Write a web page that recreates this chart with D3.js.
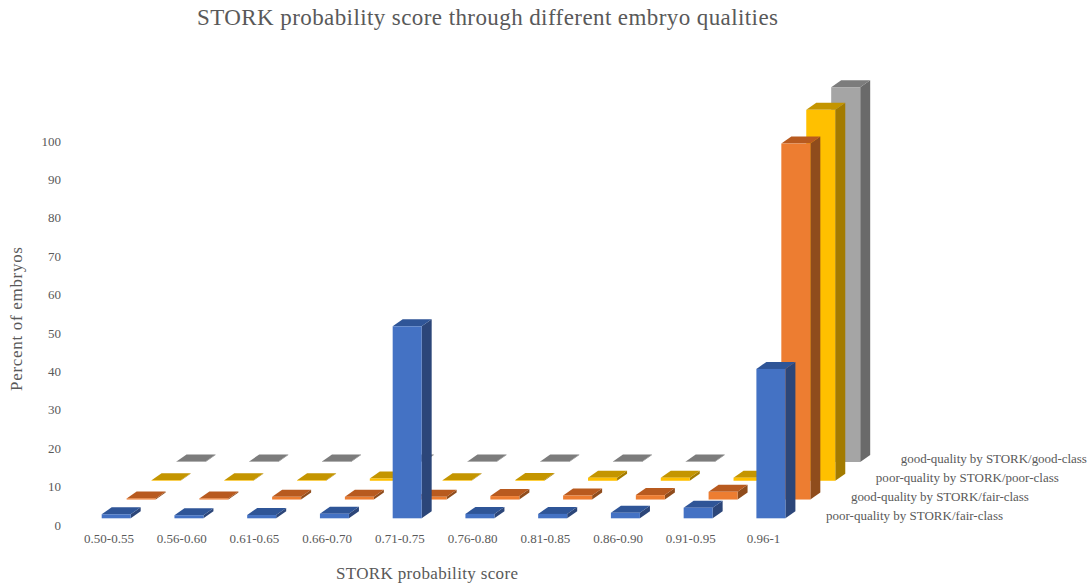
<!DOCTYPE html>
<html>
<head>
<meta charset="utf-8">
<script src="https://cdn.jsdelivr.net/npm/d3@7"></script>
<style>
  html, body { margin: 0; padding: 0; background: #fff; }
  text { font-family: "Liberation Serif", serif; fill: #595959; }
  .axis path, .axis line { display: none; }
</style>
</head>
<body>
<svg id="chart" width="1090" height="585"></svg>
<script>
// STORK score bins and the percent of embryos in each class
const categories = ["0.50-0.55","0.56-0.60","0.61-0.65","0.66-0.70","0.71-0.75","0.76-0.80","0.81-0.85","0.86-0.90","0.91-0.95","0.96-1"];
const seriesNames = [
  "poor-quality by STORK/fair-class",
  "good-quality by STORK/fair-class",
  "poor-quality by STORK/poor-class",
  "good-quality by STORK/good-class"
];
const poorFair = [1.05, 0.8, 0.85, 1.2, 50, 1.15, 1.15, 1.45, 2.75, 38.9];
const goodFair = [0.3, 0.3, 0.7, 0.7, 0.7, 0.9, 1.05, 1.15, 2.0, 92.7];
const poorPoor = [0.15, 0.15, 0.15, 0.6, 0.15, 0.2, 0.8, 0.8, 0.8, 96.6];
const goodGood = [0.15, 0.15, 0.15, 0.15, 0.15, 0.15, 0.15, 0.15, 0.15, 97.6];
const seriesValues = [poorFair, goodFair, poorPoor, goodGood];

// front, top and side shades of each series' bars
const frontColors = ["#4472C4", "#ED7D31", "#FFC000", "#A5A5A5"];
const topColors = ["#2F5597", "#B85A1F", "#C49500", "#7C7C7C"];
const sideColors = ["#2C4679", "#8F4C1C", "#A37B00", "#6A6A6A"];
const valueTicks = d3.range(0, 101, 10);

const svg = d3.select("#chart");

const barWidth = 29, depthX = 10, depthY = 7;

const y = d3.scaleLinear().domain([0, 100]).range([525, 141]);
const xBar = d3.scalePoint().domain(categories).range([101.7, 756.4]);
const xLabel = d3.scalePoint().domain(categories).range([108.5, 763]);
// each series stands further back on the floor: right and up
const seriesX = d3.scalePoint().domain(d3.range(4)).range([0, 74.8]);
const seriesY = d3.scalePoint().domain(d3.range(4)).range([-6.7, -63]);

// rear series first so nearer bars overlap them
d3.range(3, -1, -1).forEach(s => {
  const g = svg.append("g").attr("class", "series");
  const bars = g.selectAll("g").data(seriesValues[s]).join("g");
  const left = (d, i) => xBar(categories[i]) + seriesX(s);
  const base = () => y(0) + seriesY(s);
  const top = d => base() - (y(0) - y(d));

  bars.append("polygon").attr("fill", sideColors[s]).attr("points", (d, i) => {
    const r = left(d, i) + barWidth;
    return [[r, top(d)], [r + depthX, top(d) - depthY], [r + depthX, base() - depthY], [r, base()]].join(" ");
  });
  bars.append("polygon").attr("fill", topColors[s]).attr("points", (d, i) => {
    const l = left(d, i), r = l + barWidth;
    return [[l, top(d)], [l + depthX, top(d) - depthY], [r + depthX, top(d) - depthY], [r, top(d)]].join(" ");
  });
  bars.append("rect").attr("fill", frontColors[s])
    .attr("x", left)
    .attr("y", top)
    .attr("width", barWidth)
    .attr("height", d => base() - top(d));
});

svg.append("g").attr("class", "axis").attr("transform", "translate(66,0)")
  .call(d3.axisLeft(y).tickValues(valueTicks).tickSize(0).tickPadding(5))
  .call(g => g.selectAll("text").style("font-size", "13px").style("fill", "#595959"));

svg.append("g").attr("class", "axis").attr("transform", "translate(0,534)")
  .call(d3.axisBottom(xLabel).tickSize(0).tickPadding(0))
  .call(g => g.selectAll("text").style("font-size", "13px").style("fill", "#595959"));

// series names follow the depth offsets along the floor
const legendLengths = [177, 178, 183, 186];
svg.append("g").selectAll("text").data(seriesNames).join("text")
  .attr("x", (d, i) => 826 + seriesX(i))
  .attr("y", (d, i) => 519.5 + seriesY(i) + 6.7)
  .attr("textLength", (d, i) => legendLengths[i])
  .attr("lengthAdjust", "spacing")
  .style("font-size", "13px")
  .text(d => d);

svg.append("text").attr("x", 197).attr("y", 25)
  .attr("textLength", 581).attr("lengthAdjust", "spacing")
  .style("font-size", "23px")
  .text("STORK probability score through different embryo qualities");

svg.append("text").attr("x", 336).attr("y", 579)
  .attr("textLength", 182).attr("lengthAdjust", "spacing")
  .style("font-size", "17px")
  .text("STORK probability score");

svg.append("text").attr("transform", "translate(22,391) rotate(-90)")
  .attr("textLength", 144).attr("lengthAdjust", "spacing")
  .style("font-size", "17px")
  .text("Percent of embryos");
</script>
</body>
</html>
